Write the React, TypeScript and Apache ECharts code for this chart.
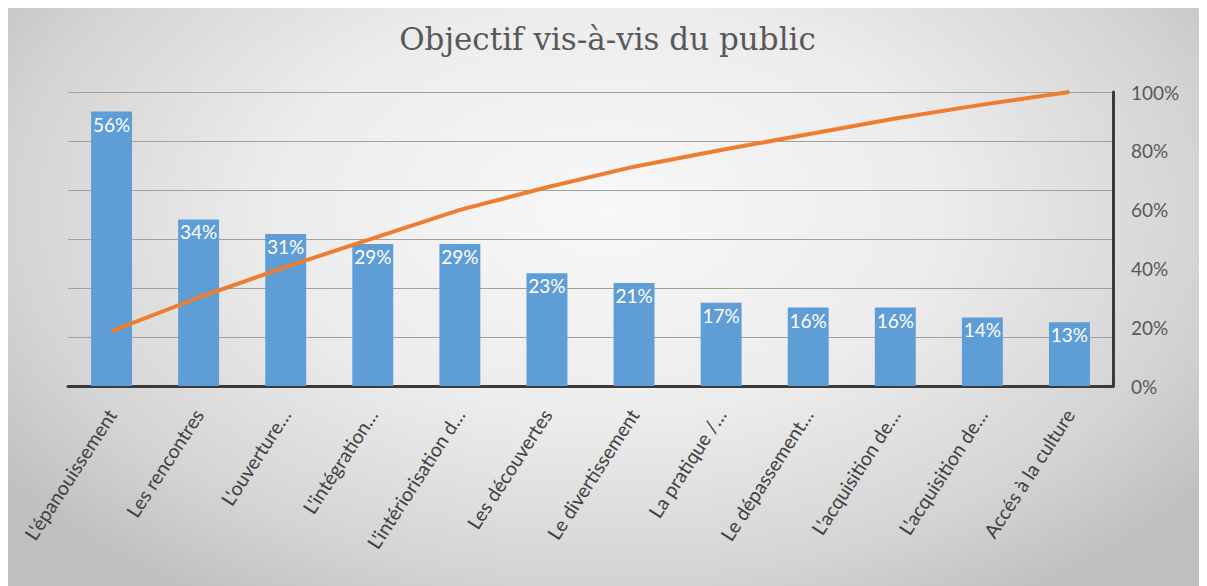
import React, { useEffect, useRef } from "react";
import * as echarts from "echarts";

const categories = [
  "L'épanouissement",
  "Les rencontres",
  "L'ouverture…",
  "L'intégration…",
  "L'intériorisation d…",
  "Les découvertes",
  "Le divertissement",
  "La pratique /…",
  "Le dépassement…",
  "L'acquisition de…",
  "L'acquisition de…",
  "Accés à la culture",
];
const barValues = [56, 34, 31, 29, 29, 23, 21, 17, 16, 16, 14, 13];
const cumulativeValues = [18.7, 30.1, 40.5, 50.2, 59.9, 67.6, 74.6, 80.3, 85.6, 91.0, 95.7, 100];
const title = "Objectif vis-à-vis du public";

export default function App() {
  const ref = useRef<HTMLDivElement>(null);
  useEffect(() => {
    if (!ref.current) return;
    const chart = echarts.init(ref.current, undefined, { renderer: "svg" });
    chart.setOption({
      animation: false,
      backgroundColor: "transparent",
      title: {
        text: title,
        left: "center",
        top: 10,
        textStyle: {
          fontFamily: "DejaVu Serif",
          fontSize: 31,
          fontWeight: "normal",
          color: "#595959",
        },
      },
      grid: { left: 60, right: 94, top: 84, bottom: 200 },
      xAxis: {
        type: "category",
        data: categories,
        axisLine: { show: true, lineStyle: { color: "#3a3a3a", width: 3 } },
        axisTick: { show: false },
        axisLabel: {
          interval: 0,
          rotate: 57,
          margin: 25,
          fontFamily: "Lato",
          fontSize: 19.5,
          color: "#404040",
        },
      },
      yAxis: [
        {
          type: "value",
          min: 0,
          max: 60,
          interval: 10,
          axisLabel: { show: false },
          axisLine: { show: false },
          axisTick: { show: false },
          splitLine: { show: true, lineStyle: { color: "#a0a0a0", width: 1 } },
        },
        {
          type: "value",
          position: "right",
          min: 0,
          max: 100,
          interval: 20,
          axisLine: { show: true, lineStyle: { color: "#3a3a3a", width: 3 } },
          axisTick: { show: false },
          splitLine: { show: false },
          axisLabel: {
            formatter: "{value}%",
            margin: 18,
            fontFamily: "Lato",
            fontSize: 19,
            color: "#595959",
          },
        },
      ],
      series: [
        {
          type: "bar",
          data: barValues,
          yAxisIndex: 0,
          barCategoryGap: "53%",
          itemStyle: { color: "#5f9dd6" },
          label: {
            show: true,
            position: "insideTop",
            distance: 3,
            formatter: "{c}%",
            fontFamily: "Lato",
            fontSize: 19,
            color: "#ffffff",
          },
        },
        {
          type: "line",
          data: cumulativeValues,
          yAxisIndex: 1,
          showSymbol: false,
          symbol: "none",
          lineStyle: { color: "#ed7d31", width: 4 },
          z: 5,
        },
      ],
    });
    return () => chart.dispose();
  }, []);
  return (
    <div
      ref={ref}
      style={{
        width: 1199,
        height: 578,
        background:
          "radial-gradient(ellipse 62% 80% at 50% 35%, #f8f8f8 0%, #ececec 45%, #d4d4d4 80%, #c0c0c0 100%)",
      }}
    />
  );
}
